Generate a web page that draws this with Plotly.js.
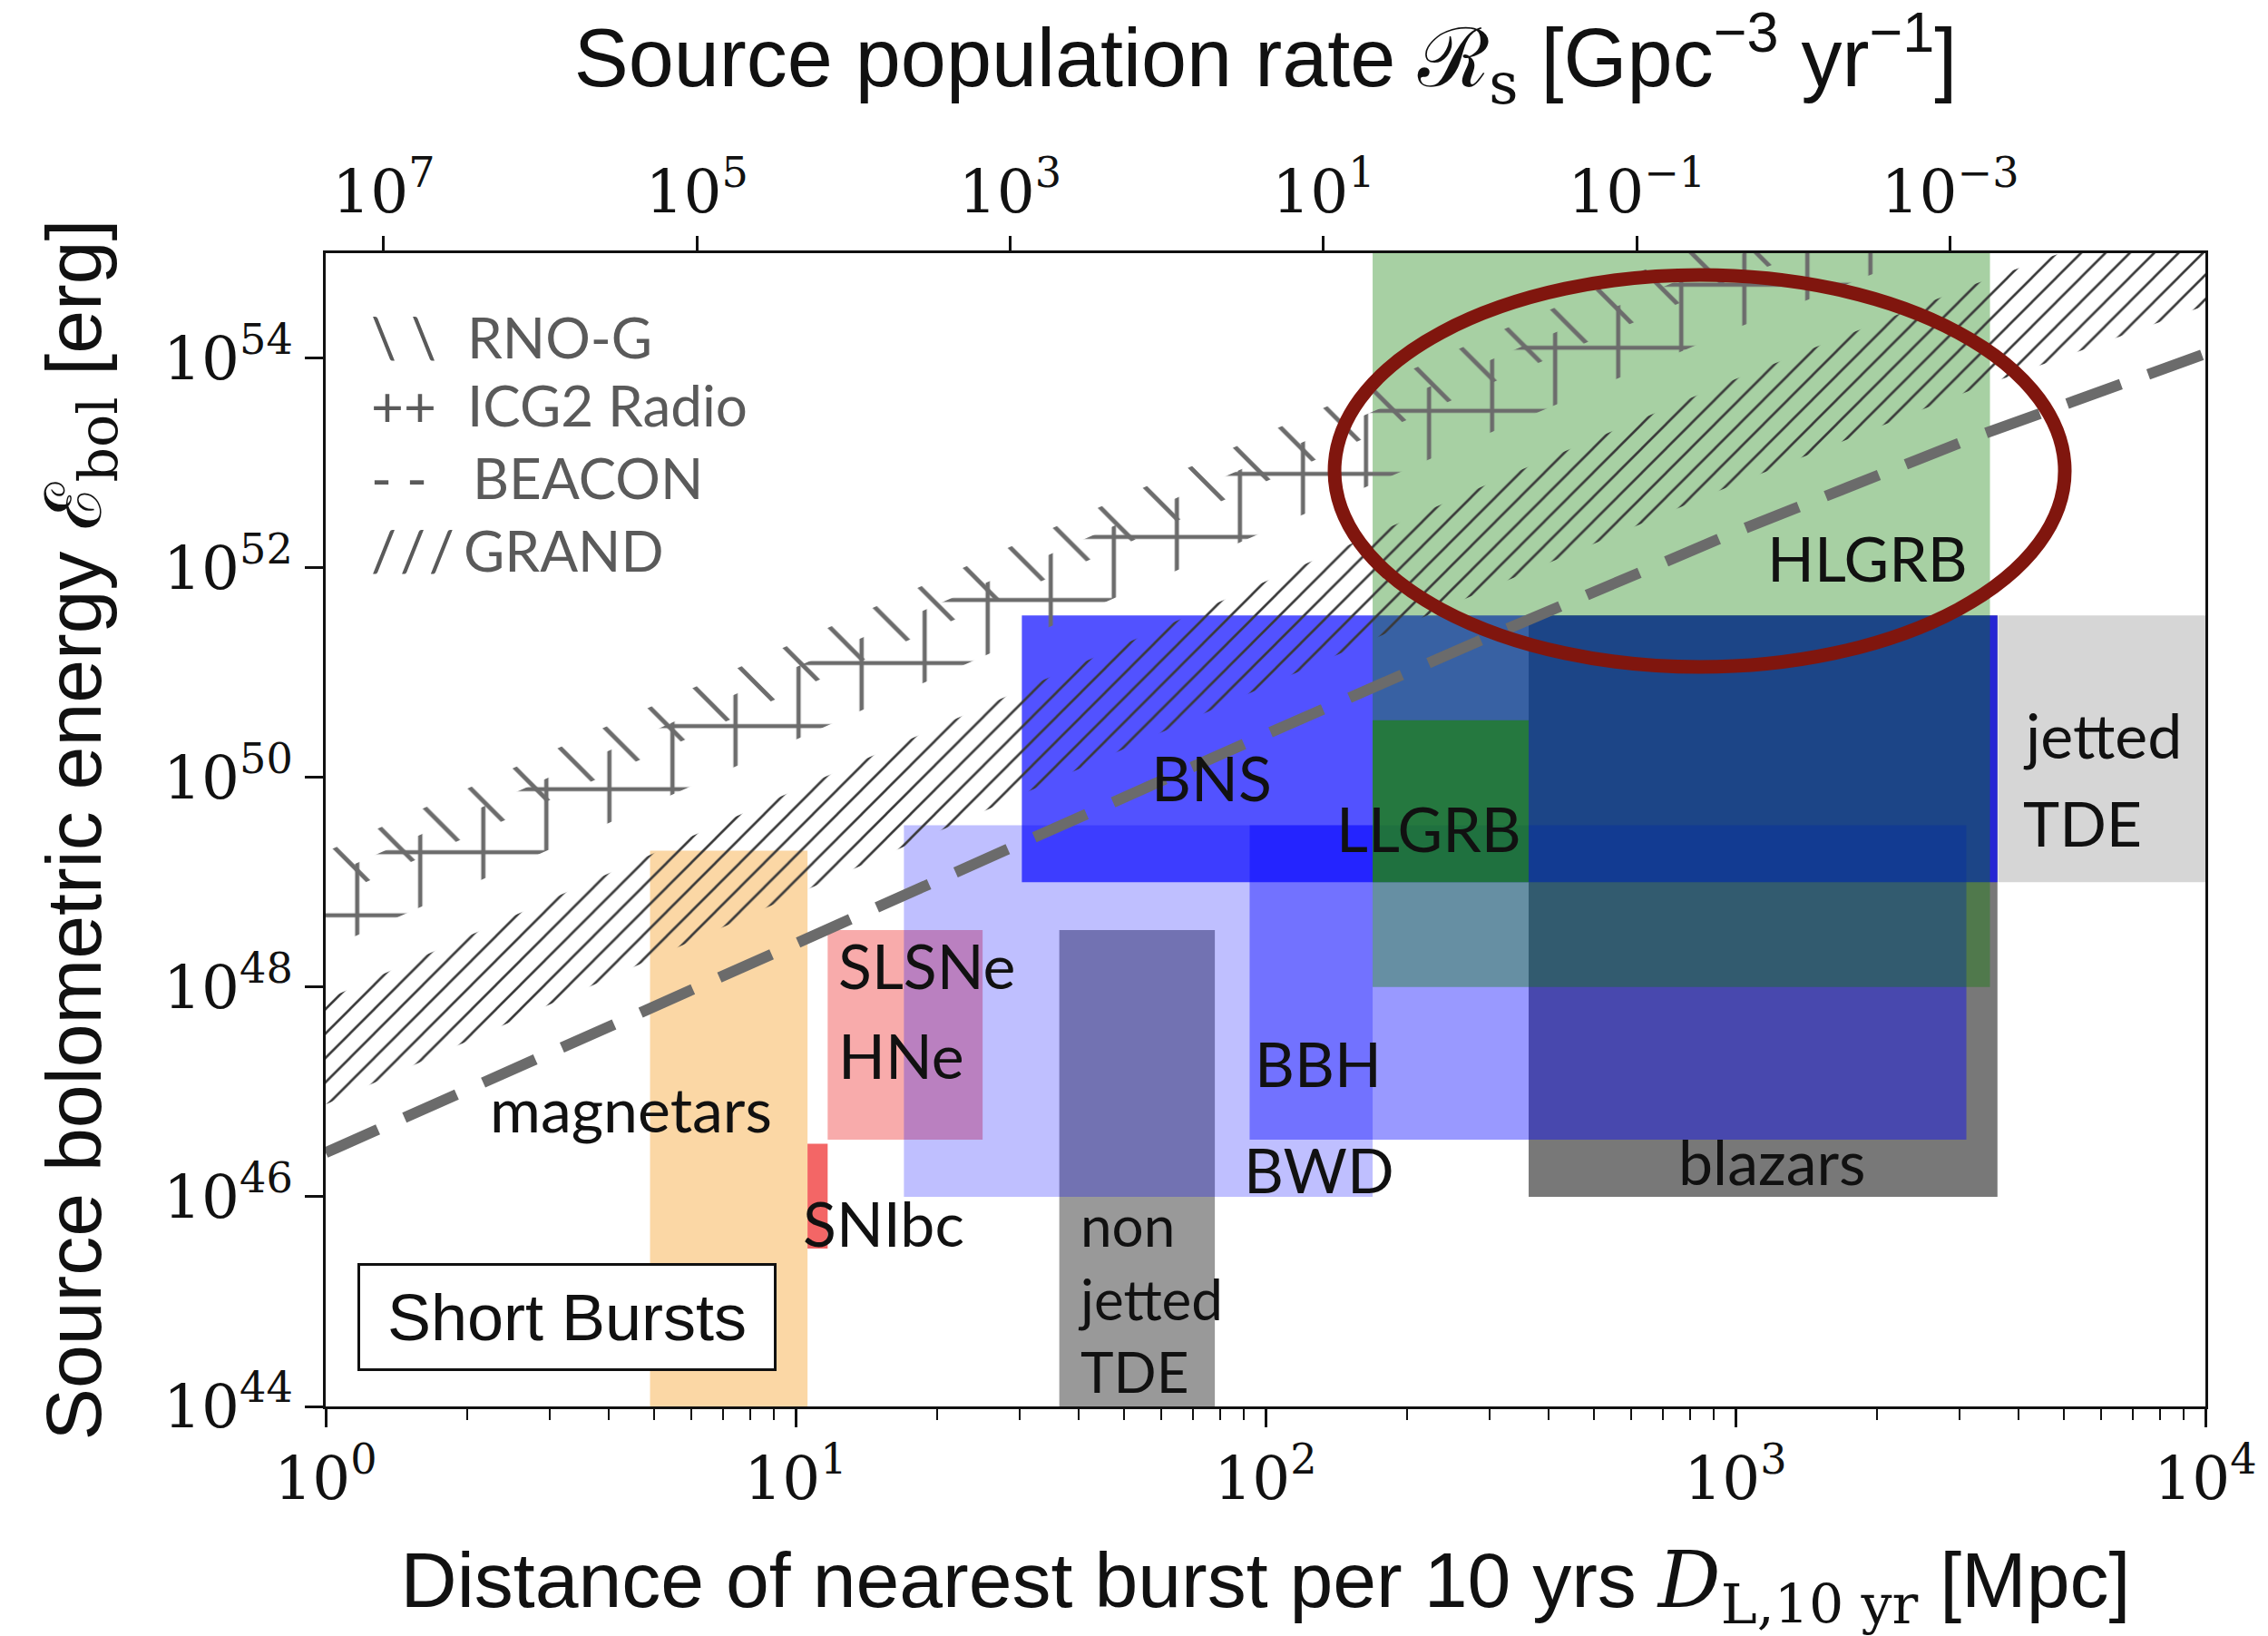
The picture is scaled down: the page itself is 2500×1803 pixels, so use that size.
<!DOCTYPE html>
<html>
<head>
<meta charset="utf-8">
<script src="https://cdn.plot.ly/plotly-3.0.1.min.js"></script>
<style>html,body{margin:0;padding:0;background:#fff}</style>
</head>
<body>
<div id="chart" style="width:2500px;height:1803px"></div>
<script>
// Source classes: distance of nearest burst per 10 yr [Mpc] and bolometric energy [erg]
const sources   = ['magnetars', 'SLSNe/HNe', 'SNIbc', 'non-jetted TDE', 'BWD', 'blazars', 'BBH', 'BNS', 'HLGRB', 'LLGRB', 'jetted TDE'];
const distMin   = [4.9,   11.7,   10.6,   36.4,   17,     363,    92.5,   30.3,   169,    169,    3620];
const distMax   = [10.6,  25,     11.7,   78,     169,    3610,   3100,   3610,   3480,   363,    10000];
const energyMin = [1e44,  3.5e46, 3.2e45, 1e44,   1e46,   1e46,   3.5e46, 1e49,   1e48,   1e49,   1e49];
const energyMax = [2e49,  3.5e48, 3.2e46, 3.5e48, 3.5e49, 3.5e51, 3.5e49, 3.5e51, 1e55,   3.5e50, 3.5e51];

// Detector sensitivity curves, sampled on a common distance grid [Mpc]
const distGrid      = [1, 10, 100, 316, 1000, 3162, 10000];
const beaconEnergy  = [2.63e46, 2.63e48, 2.57e50, 2.45e51, 2.19e52, 1.70e53, 1.10e54];
const grandLower    = [7.59e46, 7.59e48, 7.41e50, 7.08e51, 6.31e52, 4.90e53, 3.16e54];
const grandUpper    = [7.59e47, 7.59e49, 7.41e51, 7.08e52, 6.31e53, 4.90e54, 3.16e55];
const icg2Lower     = [2.29e48, 2.29e50, 2.24e52, 2.14e53, 1.91e54, 1.48e55, 9.55e55];
const icg2Upper     = [1.12e49, 1.12e51, 1.10e53, 1.05e54, 9.33e54, 7.24e55, 4.68e56];
const rnogLower     = [6.76e48, 6.76e50, 6.61e52, 6.31e53, 5.62e54, 4.37e55, 2.82e56];
const rnogUpper     = [1.95e49, 1.95e51, 1.91e53, 1.82e54, 1.62e55, 1.26e56, 8.13e56];

// Axis ticks
const distTicks   = [1, 10, 100, 1000, 10000];
const distLabels  = ['10<sup>0</sup>', '10<sup>1</sup>', '10<sup>2</sup>', '10<sup>3</sup>', '10<sup>4</sup>'];
const energyTicks = [1e44, 1e46, 1e48, 1e50, 1e52, 1e54];
const energyLabels= ['10<sup>44</sup>', '10<sup>46</sup>', '10<sup>48</sup>', '10<sup>50</sup>', '10<sup>52</sup>', '10<sup>54</sup>'];
const rateTicks   = [1e7, 1e5, 1e3, 1e1, 1e-1, 1e-3];
const rateLabels  = ['10<sup>7</sup>', '10<sup>5</sup>', '10<sup>3</sup>', '10<sup>1</sup>', '10<sup>\u22121</sup>', '10<sup>\u22123</sup>'];

// Fill colours (translucent so overlaps blend)
const boxFill = {
  'magnetars':      'rgba(245,160,40,0.42)',
  'SLSNe/HNe':      'rgba(235,0,0,0.33)',
  'SNIbc':          'rgba(235,0,0,0.6)',
  'non-jetted TDE': 'rgba(0,0,0,0.4)',
  'BWD':            'rgba(0,0,255,0.25)',
  'blazars':        'rgba(0,0,0,0.53)',
  'BBH':            'rgba(0,0,255,0.4)',
  'BNS':            'rgba(0,0,255,0.68)',
  'HLGRB':          'rgba(10,125,0,0.36)',
  'LLGRB':          'rgba(30,130,20,0.7)',
  'jetted TDE':     'rgba(0,0,0,0.16)'
};

const noLine = {width: 0, color: 'rgba(0,0,0,0)'};

const traces = sources.map((name, i) => ({
  type: 'scatter', mode: 'lines', name: name,
  x: [distMin[i], distMax[i], distMax[i], distMin[i], distMin[i]],
  y: [energyMin[i], energyMin[i], energyMax[i], energyMax[i], energyMin[i]],
  fill: 'toself', fillcolor: boxFill[name], line: noLine,
  hoverinfo: 'name', showlegend: false
}));

function hatchedBand(name, lower, upper, pattern) {
  return {
    type: 'scatter', mode: 'lines', name: name,
    x: distGrid.concat(distGrid.slice().reverse()),
    y: lower.concat(upper.slice().reverse()),
    fill: 'toself', fillcolor: 'rgba(0,0,0,0)', line: noLine,
    fillpattern: Object.assign({bgcolor: 'rgba(0,0,0,0)', fillmode: 'replace'}, pattern),
    hoverinfo: 'name', showlegend: false
  };
}

traces.push(hatchedBand('GRAND', grandLower, grandUpper, {shape: '/', size: 19, solidity: 0.14, fgcolor: '#3a3a3a'}));
traces.push(hatchedBand('ICG2 Radio', icg2Lower, icg2Upper, {shape: '+', size: 69.5, solidity: 0.13, fgcolor: '#6c6c6c'}));
traces.push(hatchedBand('RNO-G', rnogLower, rnogUpper, {shape: '\\', size: 50.7, solidity: 0.095, fgcolor: '#6c6c6c'}));

traces.push({
  type: 'scatter', mode: 'lines', name: 'BEACON',
  x: distGrid, y: beaconEnergy,
  line: {color: '#6b6b6b', width: 12, dash: '63px,32px'},
  hoverinfo: 'name', showlegend: false
});

// carries the top (rate) axis
traces.push({
  type: 'scatter', mode: 'markers', xaxis: 'x2', yaxis: 'y',
  x: rateTicks, y: rateTicks.map(() => null),
  marker: {opacity: 0}, hoverinfo: 'skip', showlegend: false
});

const minorDist = [];
for (let k = 0; k < 4; k++) for (let m = 2; m <= 9; m++) minorDist.push(m * Math.pow(10, k));

const tickFont = {family: 'DejaVu Serif', size: 66, color: '#111'};
const titleFont = {family: 'Liberation Sans', size: 86, color: '#111'};
const labelFont = {family: 'Lato', size: 68, color: '#111'};
const legendFont = {family: 'Lato', size: 62, color: '#5a5a5a'};

function label(text, x, y, xanchor) {
  return {text: text, x: x, y: y, xref: 'x', yref: 'y', showarrow: false,
          xanchor: xanchor || 'center', yanchor: 'middle', font: labelFont};
}
function legendItem(text, x, y) {
  return {text: text, x: x, y: y, xref: 'paper', yref: 'paper', showarrow: false,
          xanchor: 'left', yanchor: 'middle', font: legendFont};
}

const annotations = [
  label('HLGRB', 3.28, 52.10),
  label('BNS', 1.886, 50.00),
  label('LLGRB', 2.348, 49.52),
  label('jetted', 3.609, 50.41, 'left'),
  label('TDE', 3.609, 49.57, 'left'),
  label('SLSNe', 1.086, 48.21, 'left'),
  label('HNe', 1.086, 47.35, 'left'),
  label('magnetars', 0.649, 46.84),
  label('SNIbc', 1.188, 45.75),
  label('BBH', 2.111, 47.28),
  label('BWD', 2.114, 46.26),
  {text: 'non<br>jetted<br>TDE', x: 1.597, y: 45.03, xref: 'x', yref: 'y', showarrow: false,
   xanchor: 'left', yanchor: 'middle', align: 'left',
   font: {family: 'Lato', size: 62, color: '#111'}},
  label('blazars', 3.077, 46.34),
  legendItem('\\ \\', 0.023, 0.928),
  legendItem('RNO-G', 0.0744, 0.928),
  legendItem('++', 0.023, 0.8686),
  legendItem('ICG2 Radio', 0.0744, 0.8686),
  legendItem('- -', 0.023, 0.8057),
  legendItem('BEACON', 0.0774, 0.8057),
  legendItem('/\u200A/\u200A/', 0.023, 0.7427),
  legendItem('GRAND', 0.0725, 0.7427),
  {text: 'Short Bursts', x: 0.1284, y: 0.0775, xref: 'paper', yref: 'paper', showarrow: false,
   xanchor: 'center', yanchor: 'middle', width: 456, height: 113,
   bordercolor: '#111', borderwidth: 3, borderpad: 0, bgcolor: '#fff',
   font: {family: 'Liberation Sans', size: 72, color: '#111'}}
];

const layout = {
  width: 2500, height: 1803, autosize: false,
  margin: {l: 359, r: 69, t: 279, b: 253, pad: 0},
  paper_bgcolor: '#fff', plot_bgcolor: '#fff',
  showlegend: false,
  xaxis: {
    type: 'log', range: [0, 4], autorange: false,
    tickmode: 'array', tickvals: distTicks, ticktext: distLabels,
    ticks: 'outside', ticklen: 20, tickwidth: 3, tickcolor: '#111',
    minor: {tickmode: 'array', tickvals: minorDist, ticks: 'outside', ticklen: 12, tickwidth: 2, tickcolor: '#111', showgrid: false},
    showline: true, linewidth: 3, linecolor: '#111', mirror: true,
    showgrid: false, zeroline: false, tickfont: tickFont,
    title: {text: 'Distance of nearest burst per 10 yrs <span style="font-family:DejaVu Serif"><i>D</i><sub>L,10 yr</sub></span> [Mpc]',
            font: titleFont, standoff: 90}
  },
  xaxis2: {
    type: 'log', range: [7.37, -4.63], autorange: false,
    overlaying: 'x', side: 'top', anchor: 'y',
    tickmode: 'array', tickvals: rateTicks, ticktext: rateLabels,
    ticks: 'outside', ticklen: 18, tickwidth: 3, tickcolor: '#111',
    showline: false, showgrid: false, zeroline: false, tickfont: tickFont,
    title: {text: 'Source population rate <span style="font-family:DejaVu Serif">\u211B<sub>s</sub></span> [Gpc<sup>\u22123</sup> yr<sup>\u22121</sup>]',
            font: {family: 'Liberation Sans', size: 90, color: '#111'}, standoff: 38}
  },
  yaxis: {
    type: 'log', range: [44, 55], autorange: false,
    tickmode: 'array', tickvals: energyTicks, ticktext: energyLabels,
    ticks: 'outside', ticklen: 20, tickwidth: 3, tickcolor: '#111',
    showline: true, linewidth: 3, linecolor: '#111', mirror: true,
    showgrid: false, zeroline: false, tickfont: tickFont,
    title: {text: 'Source bolometric energy <span style="font-family:DejaVu Serif">\u2130<sub>bol</sub></span> [erg]',
            font: titleFont, standoff: 40}
  },
  shapes: [{
    type: 'circle', xref: 'paper', yref: 'paper',
    x0: 0.5367, x1: 0.9252, y0: 0.6412, y1: 0.9811,
    line: {color: 'rgb(128,22,14)', width: 15}, fillcolor: 'rgba(0,0,0,0)', layer: 'above'
  }],
  annotations: annotations
};

Plotly.newPlot('chart', traces, layout, {staticPlot: true, displayModeBar: false});
</script>
</body>
</html>
